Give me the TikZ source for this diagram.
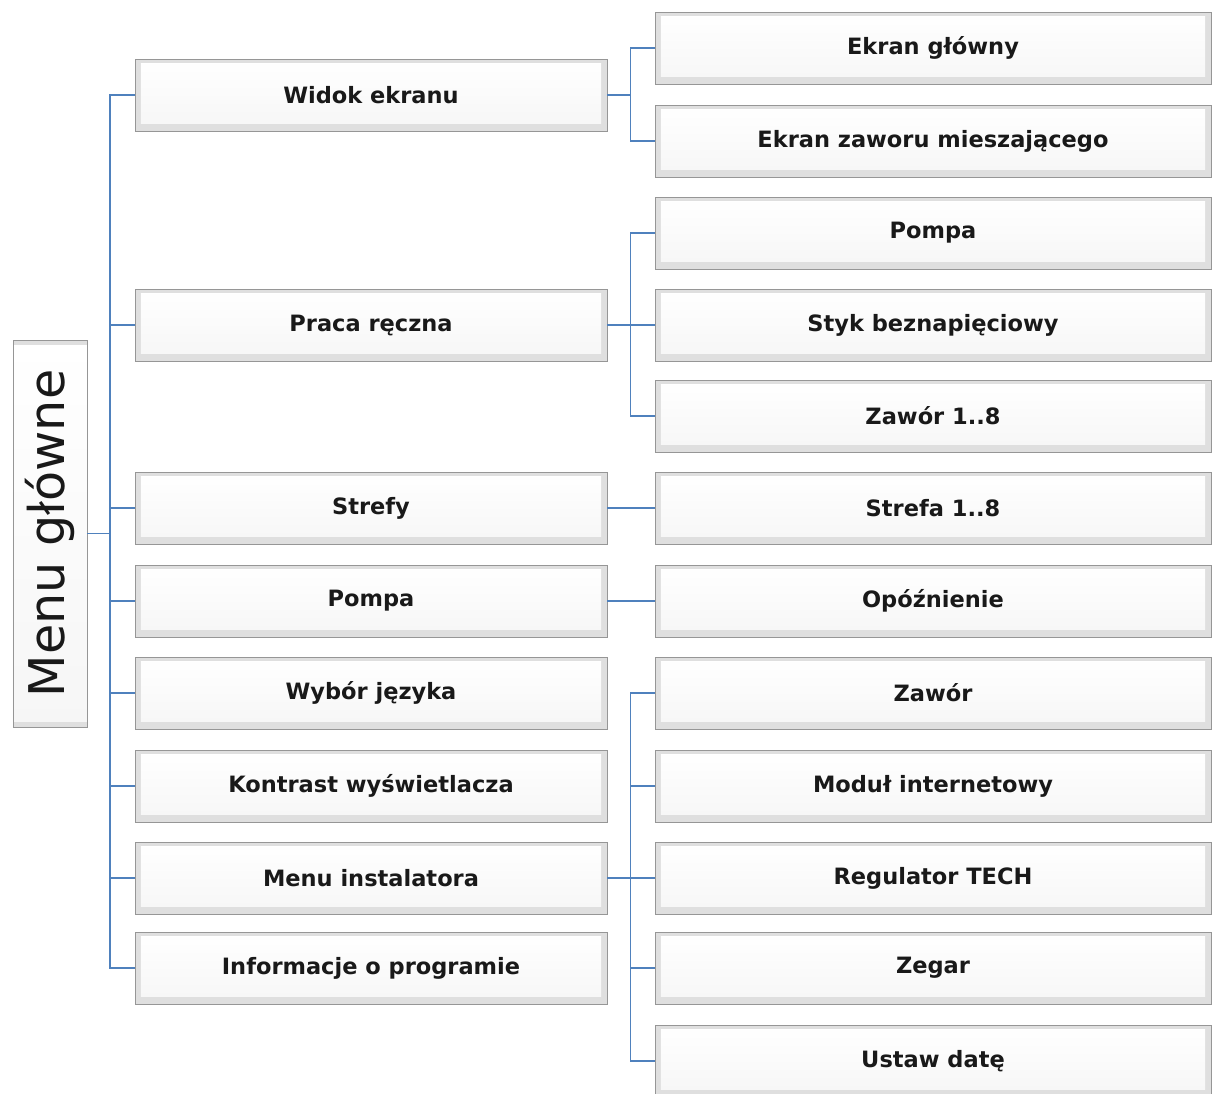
\documentclass[tikz,border=0pt]{standalone}
\usepackage{fontspec}
\setmainfont{DejaVu Sans}
\usetikzlibrary{calc}
\definecolor{linkcolor}{RGB}{79,129,189}
\definecolor{edgecolor}{RGB}{150,150,150}
\definecolor{textcolor}{RGB}{25,25,25}

\begin{document}
\begin{tikzpicture}[
    x=0.025cm, y=-0.025cm,
    bevel/.style={draw=edgecolor, fill=gray!25, line width=0.6pt, text=textcolor,
        path picture={\shade[top color=white, bottom color=gray!7]
            ($(path picture bounding box.south west)+(0.15cm,0.2cm)$) rectangle
            ($(path picture bounding box.north east)+(-0.15cm,-0.12cm)$);}},
    root/.style={bevel, rotate=90, minimum width=9.675cm, minimum height=1.85cm,
        inner sep=0pt, font=\fontsize{35}{40}\selectfont},
    levelA/.style={bevel, minimum width=11.8cm, minimum height=1.8cm,
        font=\bfseries\fontsize{16}{18}\selectfont},
    levelB/.style={bevel, minimum width=13.9cm, minimum height=1.8cm,
        font=\bfseries\fontsize{16}{18}\selectfont},
    conn/.style={linkcolor, line width=1.4pt}
]
    \useasboundingbox (0,0) rectangle (1213,1094);

    % Root
    \node[root] (menu) at (50,533.5) {Menu główne};

    % First level
    \node[levelA] (widok) at (371,95) {Widok ekranu};
    \node[levelA] (praca) at (371,325) {Praca ręczna};
    \node[levelA] (strefy) at (371,508) {Strefy};
    \node[levelA] (pompa) at (371,601) {Pompa};
    \node[levelA] (jezyk) at (371,693) {Wybór języka};
    \node[levelA] (kontrast) at (371,786) {Kontrast wyświetlacza};
    \node[levelA] (instal) at (371,878) {Menu instalatora};
    \node[levelA] (info) at (371,968) {Informacje o programie};

    % Second level
    \node[levelB] (ekranA) at (933,48) {Ekran główny};
    \node[levelB] (ekranB) at (933,141) {Ekran zaworu mieszającego};
    \node[levelB] (pracaA) at (933,233) {Pompa};
    \node[levelB] (pracaB) at (933,325) {Styk beznapięciowy};
    \node[levelB] (pracaC) at (933,416) {Zawór 1..8};
    \node[levelB] (strefa) at (933,508) {Strefa 1..8};
    \node[levelB] (opozn) at (933,601) {Opóźnienie};
    \node[levelB] (instA) at (933,693) {Zawór};
    \node[levelB] (instB) at (933,786) {Moduł internetowy};
    \node[levelB] (instC) at (933,878) {Regulator TECH};
    \node[levelB] (instD) at (933,968) {Zegar};
    \node[levelB] (instE) at (933,1061) {Ustaw datę};

    % Connectors
    \foreach \n in {widok,praca,strefy,pompa,jezyk,kontrast,instal,info}
        \draw[conn] (menu.south) -- ++(23,0) |- (\n.west);
    \foreach \n in {ekranA,ekranB}
        \draw[conn] (widok.east) -- ++(23,0) |- (\n.west);
    \foreach \n in {pracaA,pracaB,pracaC}
        \draw[conn] (praca.east) -- ++(23,0) |- (\n.west);
    \draw[conn] (strefy.east) -- (strefa.west);
    \draw[conn] (pompa.east) -- (opozn.west);
    \foreach \n in {instA,instB,instC,instD,instE}
        \draw[conn] (instal.east) -- ++(23,0) |- (\n.west);
\end{tikzpicture}
\end{document}
